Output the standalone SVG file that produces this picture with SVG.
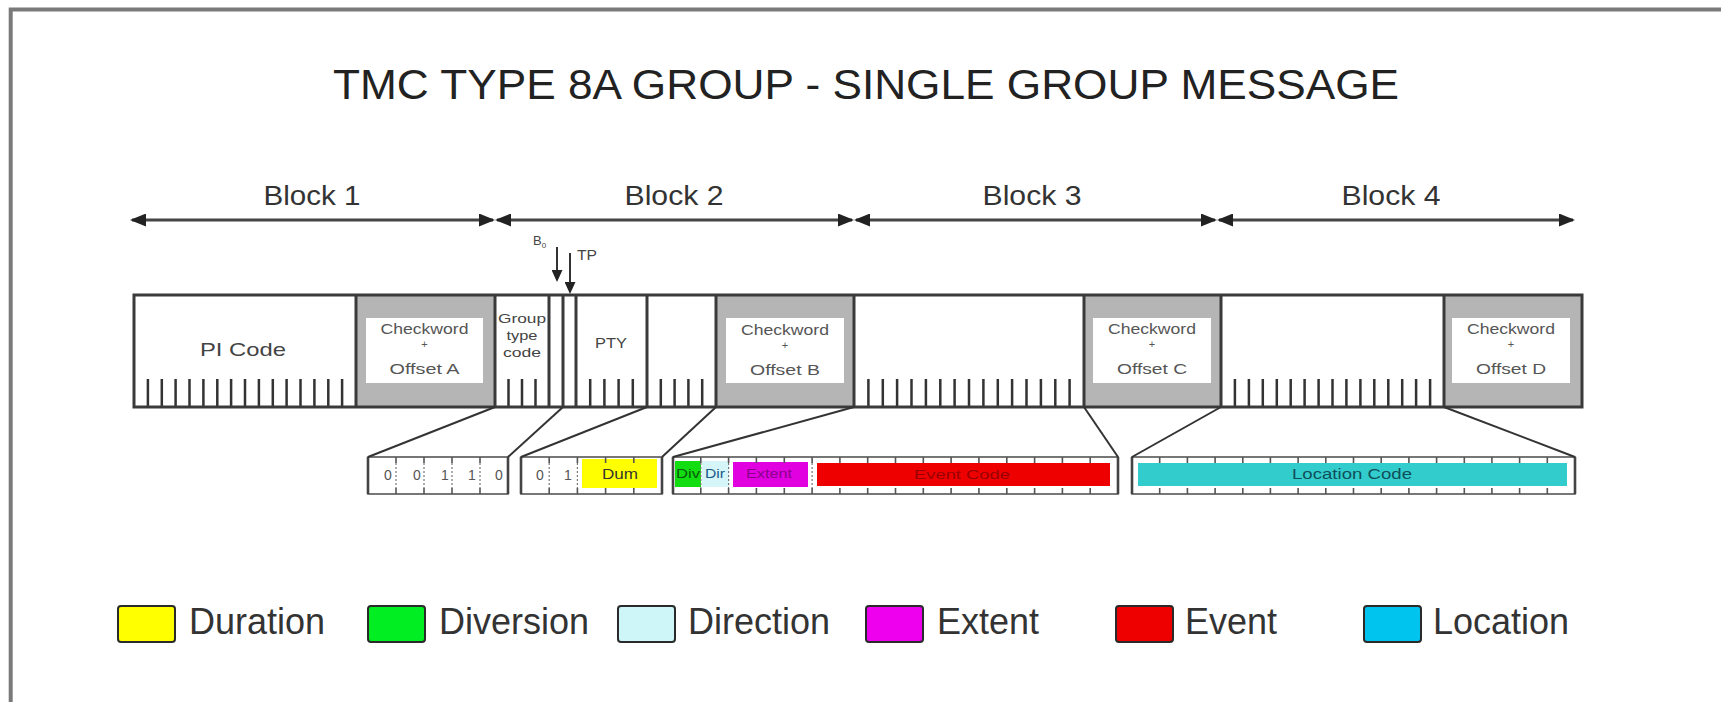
<svg xmlns="http://www.w3.org/2000/svg" width="1721" height="702" viewBox="0 0 1721 702">
<defs>
<style>
text { font-family: "Liberation Sans", Arial, sans-serif; fill: #2a2a2a; }
.title { font-size: 43px; fill: #222; }
.blk { font-size: 28px; fill: #333; text-anchor: middle; }
.cw { font-size: 14px; fill: #555; text-anchor: middle; }
.plus { font-size: 11px; fill: #555; text-anchor: middle; }
.fld { font-size: 14px; fill: #444; text-anchor: middle; }
.bar { fill: #fff; }
.barline { fill: none; stroke: #3a3a3a; stroke-width: 3; }
.gray { fill: #b5b5b5; }
.inner { fill: #fff; }
.tick { stroke: #333; stroke-width: 2.5; fill: none; }
.sep { stroke: #3a3a3a; stroke-width: 3; }
.arrow { stroke: #444; stroke-width: 3; fill: none; }
.darrow { stroke: #333; stroke-width: 2; fill: none; }
.link { stroke: #333; stroke-width: 2; fill: none; }
.bbox { fill: #fff; stroke: #555; stroke-width: 1.6; }
.bedge { stroke: #444; stroke-width: 2.6; }
.btick { stroke: #555; stroke-width: 1.6; fill: none; }
.dot { stroke: #777; stroke-width: 1.2; stroke-dasharray: 2 2; fill: none; }
.bit { font-size: 14px; fill: #555; text-anchor: middle; }
.btxt { font-size: 13px; text-anchor: middle; }
.leg { font-size: 36px; fill: #333; }
.sw { stroke: #2a2a2a; stroke-width: 2; }
</style>
<marker id="ah" viewBox="0 0 16 13" refX="14" refY="6.5" markerWidth="16" markerHeight="13" markerUnits="userSpaceOnUse" orient="auto-start-reverse">
<path d="M0,0 L16,6.5 L0,13 z" fill="#222"/>
</marker>
<marker id="dn" viewBox="0 0 12 11" refX="10" refY="5.5" markerWidth="12" markerHeight="11" markerUnits="userSpaceOnUse" orient="auto">
<path d="M0,0 L12,5.5 L0,11 z" fill="#222"/>
</marker>
</defs>

<rect x="0" y="0" width="1721" height="702" fill="#fff"/>
<g id="frame">
<path d="M10.7,702 V9.5 H1721" fill="none" stroke="#7a7a7a" stroke-width="4"/>
</g>

<g id="title">
<text class="title" x="866" y="99" text-anchor="middle" textLength="1066" lengthAdjust="spacingAndGlyphs">TMC TYPE 8A GROUP - SINGLE GROUP MESSAGE</text>
</g>

<g id="block-labels">
<text id="label-block1" class="blk" x="312" y="205" textLength="97" lengthAdjust="spacingAndGlyphs">Block 1</text>
<text id="label-block2" class="blk" x="674" y="205" textLength="99" lengthAdjust="spacingAndGlyphs">Block 2</text>
<text id="label-block3" class="blk" x="1032" y="205" textLength="99" lengthAdjust="spacingAndGlyphs">Block 3</text>
<text id="label-block4" class="blk" x="1391" y="205" textLength="99" lengthAdjust="spacingAndGlyphs">Block 4</text>
</g>

<g id="bar-background">
<rect class="bar" x="134" y="295" width="1448" height="112"/>
</g>

<g id="pi-code">
<text class="fld" x="243" y="356" style="font-size:19px" textLength="86" lengthAdjust="spacingAndGlyphs">PI Code</text>
<path class="tick" d="M147.9,379V407 M161.8,379V407 M175.6,379V407 M189.5,379V407 M203.4,379V407 M217.3,379V407 M231.1,379V407 M245,379V407 M258.9,379V407 M272.8,379V407 M286.6,379V407 M300.5,379V407 M314.4,379V407 M328.3,379V407 M342.1,379V407"/>
</g>

<g id="checkword-a">
<rect class="gray" x="356" y="295" width="139" height="112"/>
<rect class="inner" x="366" y="318" width="117" height="65"/>
<text class="cw" x="424.5" y="334" textLength="88" lengthAdjust="spacingAndGlyphs">Checkword</text>
<text class="plus" x="424.5" y="348">+</text>
<text class="cw" x="424.5" y="374" textLength="70" lengthAdjust="spacingAndGlyphs">Offset A</text>
</g>

<g id="group-type-code">
<text class="fld" x="522" y="323" style="font-size:13px" textLength="48" lengthAdjust="spacingAndGlyphs">Group</text>
<text class="fld" x="522" y="340" style="font-size:13px" textLength="31" lengthAdjust="spacingAndGlyphs">type</text>
<text class="fld" x="522" y="357" style="font-size:13px" textLength="38" lengthAdjust="spacingAndGlyphs">code</text>
<path class="tick" d="M508.5,379V407 M522,379V407 M535.5,379V407"/>
</g>

<g id="b0-field">
<text x="533" y="245" style="font-size:13px;fill:#444">B<tspan style="font-size:8px" dy="3">0</tspan></text>
</g>

<g id="tp-field">
<text x="577" y="260" style="font-size:14px;fill:#444" textLength="20" lengthAdjust="spacingAndGlyphs">TP</text>
</g>

<g id="pty">
<text class="fld" x="611" y="348" textLength="32" lengthAdjust="spacingAndGlyphs">PTY</text>
<path class="tick" d="M590.2,379V407 M604.4,379V407 M618.6,379V407 M632.8,379V407"/>
</g>

<g id="block2-rest">
<path class="tick" d="M660.8,379V407 M674.6,379V407 M688.4,379V407 M702.2,379V407"/>
</g>

<g id="checkword-b">
<rect class="gray" x="716" y="295" width="138" height="112"/>
<rect class="inner" x="726" y="318" width="118" height="65"/>
<text class="cw" x="785" y="335" textLength="88" lengthAdjust="spacingAndGlyphs">Checkword</text>
<text class="plus" x="785" y="349">+</text>
<text class="cw" x="785" y="375" textLength="70" lengthAdjust="spacingAndGlyphs">Offset B</text>
</g>

<g id="block3-data">
<path class="tick" d="M868.4,379V407 M882.8,379V407 M897.1,379V407 M911.5,379V407 M925.9,379V407 M940.3,379V407 M954.6,379V407 M969,379V407 M983.4,379V407 M997.8,379V407 M1012.1,379V407 M1026.5,379V407 M1040.9,379V407 M1055.3,379V407 M1069.6,379V407"/>
</g>

<g id="checkword-c">
<rect class="gray" x="1084" y="295" width="137" height="112"/>
<rect class="inner" x="1093" y="318" width="118" height="65"/>
<text class="cw" x="1152" y="334" textLength="88" lengthAdjust="spacingAndGlyphs">Checkword</text>
<text class="plus" x="1152" y="348">+</text>
<text class="cw" x="1152" y="374" textLength="70" lengthAdjust="spacingAndGlyphs">Offset C</text>
</g>

<g id="block4-data">
<path class="tick" d="M1234.9,379V407 M1248.9,379V407 M1262.8,379V407 M1276.8,379V407 M1290.7,379V407 M1304.6,379V407 M1318.6,379V407 M1332.5,379V407 M1346.4,379V407 M1360.4,379V407 M1374.3,379V407 M1388.3,379V407 M1402.2,379V407 M1416.1,379V407 M1430.1,379V407"/>
</g>

<g id="checkword-d">
<rect class="gray" x="1444" y="295" width="138" height="112"/>
<rect class="inner" x="1452" y="318" width="118" height="65"/>
<text class="cw" x="1511" y="334" textLength="88" lengthAdjust="spacingAndGlyphs">Checkword</text>
<text class="plus" x="1511" y="348">+</text>
<text class="cw" x="1511" y="374" textLength="70" lengthAdjust="spacingAndGlyphs">Offset D</text>
</g>

<g id="bar-outline">
<path class="sep" d="M356,295V407 M495,295V407 M549,295V407 M563,295V407 M576,295V407 M647,295V407 M716,295V407 M854,295V407 M1084,295V407 M1221,295V407 M1444,295V407"/>
<rect class="barline" x="134" y="295" width="1448" height="112"/>
</g>

<g id="bits-group-type">
<rect class="bbox" x="368" y="457" width="140" height="37"/>
<path class="dot" d="M396,463V488 M424,463V488 M452,463V488 M480,463V488"/>
<path class="btick" d="M396,457V463 M424,457V463 M452,457V463 M480,457V463 M396,488V494 M424,488V494 M452,488V494 M480,488V494"/>
<path class="bedge" d="M368,457V494 M508,457V494"/>
<text class="bit" x="388" y="480">0</text>
<text class="bit" x="417" y="480">0</text>
<text class="bit" x="445" y="480">1</text>
<text class="bit" x="472" y="480">1</text>
<text class="bit" x="499" y="480">0</text>
</g>

<g id="bits-duration">
<rect class="bbox" x="521" y="457" width="141" height="37"/>
<rect x="582" y="459" width="75" height="29" fill="#ffff00"/>
<path class="dot" d="M549.2,463V488 M577.4,463V488"/>
<path class="btick" d="M549.2,457V463 M577.4,457V463 M605.6,457V463 M633.8,457V463 M549.2,488V494 M577.4,488V494 M605.6,488V494 M633.8,488V494"/>
<path class="bedge" d="M521,457V494 M662,457V494"/>
<text class="bit" x="540" y="480">0</text>
<text class="bit" x="568" y="480">1</text>
<text class="btxt" x="620" y="479" style="font-size:15px;fill:#333" textLength="36" lengthAdjust="spacingAndGlyphs">Dum</text>
</g>

<g id="bits-event">
<rect class="bbox" x="673" y="457" width="445" height="37"/>
<rect x="675" y="461" width="26" height="26" fill="#11dd11"/>
<rect x="702" y="461" width="27" height="26" fill="#d6f5f8"/>
<rect x="733" y="462" width="75" height="25" fill="#e000e0"/>
<rect x="817" y="463" width="293" height="23" fill="#ee0000"/>
<path class="dot" d="M700.8,463V488 M728.6,463V488 M812.1,463V488"/>
<path class="btick" d="M700.8,457V463 M728.6,457V463 M756.4,457V463 M784.3,457V463 M812.1,457V463 M839.9,457V463 M867.7,457V463 M895.5,457V463 M923.3,457V463 M951.1,457V463 M978.9,457V463 M1006.8,457V463 M1034.6,457V463 M1062.4,457V463 M1090.2,457V463 M700.8,488V494 M728.6,488V494 M756.4,488V494 M784.3,488V494 M812.1,488V494 M839.9,488V494 M867.7,488V494 M895.5,488V494 M923.3,488V494 M951.1,488V494 M978.9,488V494 M1006.8,488V494 M1034.6,488V494 M1062.4,488V494 M1090.2,488V494"/>
<path class="bedge" d="M673,457V494 M1118,457V494"/>
<text class="btxt" x="688" y="478" style="font-size:12px;fill:#0a5a0a" textLength="24" lengthAdjust="spacingAndGlyphs">Div</text>
<text class="btxt" x="715" y="478" style="font-size:12px;fill:#1a5a8a" textLength="20" lengthAdjust="spacingAndGlyphs">Dir</text>
<text class="btxt" x="769" y="478" style="font-size:12px;fill:#8a008a" textLength="46" lengthAdjust="spacingAndGlyphs">Extent</text>
<text class="btxt" x="962" y="479" style="fill:#9a0000" textLength="96" lengthAdjust="spacingAndGlyphs">Event Code</text>
</g>

<g id="bits-location">
<rect class="bbox" x="1132" y="457" width="443" height="37"/>
<rect x="1138" y="463" width="429" height="23" fill="#33cccc"/>
<path class="btick" d="M1159.7,457V463 M1187.4,457V463 M1215.1,457V463 M1242.8,457V463 M1270.4,457V463 M1298.1,457V463 M1325.8,457V463 M1353.5,457V463 M1381.2,457V463 M1408.9,457V463 M1436.6,457V463 M1464.3,457V463 M1491.9,457V463 M1519.6,457V463 M1547.3,457V463 M1159.7,488V494 M1187.4,488V494 M1215.1,488V494 M1242.8,488V494 M1270.4,488V494 M1298.1,488V494 M1325.8,488V494 M1353.5,488V494 M1381.2,488V494 M1408.9,488V494 M1436.6,488V494 M1464.3,488V494 M1491.9,488V494 M1519.6,488V494 M1547.3,488V494"/>
<path class="bedge" d="M1132,457V494 M1575,457V494"/>
<text class="btxt" x="1352" y="479" style="font-size:14px;fill:#0f4f5a" textLength="120" lengthAdjust="spacingAndGlyphs">Location Code</text>
</g>

<g id="connectors">
<line class="arrow" x1="132" y1="220" x2="493" y2="220" marker-start="url(#ah)" marker-end="url(#ah)"/>
<line class="arrow" x1="497" y1="220" x2="852" y2="220" marker-start="url(#ah)" marker-end="url(#ah)"/>
<line class="arrow" x1="856" y1="220" x2="1215" y2="220" marker-start="url(#ah)" marker-end="url(#ah)"/>
<line class="arrow" x1="1219" y1="220" x2="1573" y2="220" marker-start="url(#ah)" marker-end="url(#ah)"/>
<line class="darrow" x1="557" y1="247" x2="557" y2="280" marker-end="url(#dn)"/>
<line class="darrow" x1="570" y1="253" x2="570" y2="292" marker-end="url(#dn)"/>
<line class="link" x1="495" y1="407" x2="368" y2="457"/>
<line class="link" x1="563" y1="407" x2="508" y2="457"/>
<line class="link" x1="647" y1="407" x2="521" y2="457"/>
<line class="link" x1="716" y1="407" x2="662" y2="457"/>
<line class="link" x1="854" y1="407" x2="673" y2="457"/>
<line class="link" x1="1084" y1="407" x2="1118" y2="457"/>
<line class="link" x1="1221" y1="407" x2="1132" y2="457"/>
<line class="link" x1="1444" y1="407" x2="1575" y2="457"/>
</g>

<g id="legend-duration">
<rect class="sw" x="118" y="606" width="57" height="36" rx="3" fill="#ffff00"/>
<text class="leg" x="189" y="634">Duration</text>
</g>
<g id="legend-diversion">
<rect class="sw" x="368" y="606" width="57" height="36" rx="3" fill="#00ee22"/>
<text class="leg" x="439" y="634">Diversion</text>
</g>
<g id="legend-direction">
<rect class="sw" x="618" y="606" width="57" height="36" rx="3" fill="#cef6f8"/>
<text class="leg" x="688" y="634">Direction</text>
</g>
<g id="legend-extent">
<rect class="sw" x="866" y="606" width="57" height="36" rx="3" fill="#ee00ee"/>
<text class="leg" x="937" y="634">Extent</text>
</g>
<g id="legend-event">
<rect class="sw" x="1116" y="606" width="57" height="36" rx="3" fill="#ee0000"/>
<text class="leg" x="1185" y="634">Event</text>
</g>
<g id="legend-location">
<rect class="sw" x="1364" y="606" width="57" height="36" rx="3" fill="#00c4ee"/>
<text class="leg" x="1433" y="634">Location</text>
</g>
</svg>
